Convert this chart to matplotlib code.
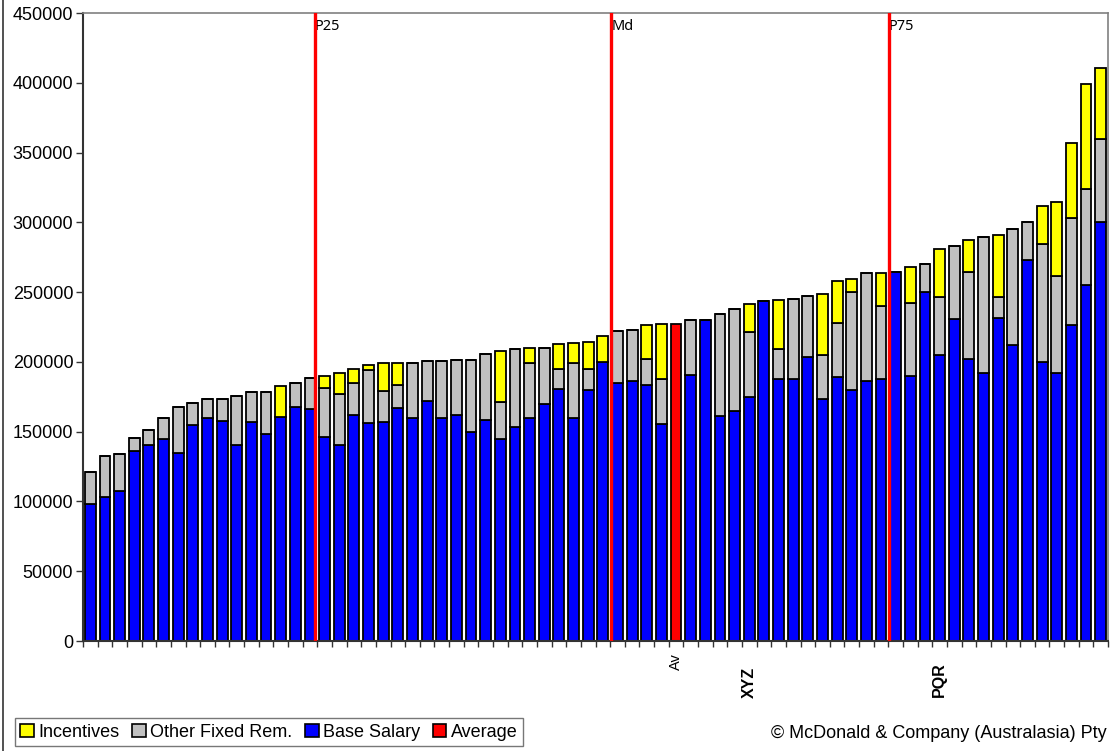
import numpy as np
import matplotlib
matplotlib.use('Agg')
import matplotlib.pyplot as plt
from matplotlib.lines import Line2D

plt.rcParams['font.family'] = ['Liberation Sans', 'DejaVu Sans']

# values (one entry per job, sorted by total)
base = [98000, 103000, 107800, 136000, 140100, 144800, 134800, 154900, 159700, 158000,
        140100, 156600, 148200, 160200, 168000, 165900, 146500, 140100, 162000, 156100,
        157000, 166800, 159900, 171900, 159900, 162300, 149600, 158700, 144400, 153400,
        159900, 169500, 180500, 159900, 180200, 200000, 185000, 186200, 183300, 155400,
        0, 190700, 229900, 161300, 164900, 174900, 243600, 187900, 187600, 203200,
        173300, 189300, 180000, 186200, 187600, 264400, 189800, 250000, 204800, 230900,
        202000, 192200, 231100, 211800, 273000, 199800, 192200, 226600, 255000, 300400]
other = [23200, 29400, 26100, 9300, 11200, 14900, 32800, 15500, 13400, 15500,
         35600, 21500, 30300, 0, 16800, 22400, 34900, 36600, 23000, 37800,
         22300, 16300, 39400, 28400, 40900, 39000, 52100, 47300, 27000, 55700,
         39000, 40400, 14300, 39000, 14400, 0, 37100, 36600, 18900, 32200,
         0, 39200, 0, 72900, 72700, 46700, 0, 21500, 57600, 43900,
         31800, 38300, 70200, 77700, 52600, 0, 52600, 20300, 41400, 51900,
         62400, 97500, 15500, 83200, 27200, 84600, 69500, 76700, 68600, 59600]
incentives = [0, 0, 0, 0, 0, 0, 0, 0, 0, 0,
              0, 0, 0, 22200, 0, 0, 8400, 15000, 10000, 3800,
              19600, 15800, 0, 0, 0, 0, 0, 0, 36300, 0,
              11200, 0, 18100, 14800, 19300, 18700, 0, 0, 24200, 39300,
              0, 0, 0, 0, 0, 19800, 0, 35100, 0, 0,
              43300, 30500, 9100, 0, 23700, 0, 25500, 0, 34600, 0,
              22700, 0, 44500, 0, 0, 27000, 53100, 53800, 75800, 50800]
average = [0] * 40 + [227300] + [0] * 29

percentile_names = ['P25', 'Md', 'P75']
percentile_pos = [15.35, 35.57, 54.52]

label_names = ['Av', 'XYZ', 'PQR']
label_pos = [40, 45, 58]

x = np.arange(len(base))
base = np.array(base)
other = np.array(other)
incentives = np.array(incentives)

fig = plt.figure(figsize=(11.12, 7.51), dpi=100)
ax = fig.add_axes([83 / 1112, 110 / 751, 1025 / 1112, 628 / 751])

w = 0.74
ec = dict(edgecolor='black', linewidth=1.3)
ax.bar(x, base, w, color='#0000FF', **ec)
ax.bar(x, other, w, bottom=base, color='#C0C0C0', **ec)
ax.bar(x, incentives, w, bottom=base + other, color='#FFFF00', **ec)
ax.bar(x, average, w, color='#FF0000', **ec)

ax.set_xlim(-0.5, len(base) - 0.5)
ax.set_ylim(0, 450000)
ax.set_yticks(np.arange(0, 450001, 50000))
ax.set_yticklabels([str(v) for v in range(0, 450001, 50000)], fontsize=13)
ax.set_xticks(np.arange(-0.5, len(base), 1))
ax.set_xticklabels([])
ax.tick_params(axis='x', direction='out', length=4, width=1, color='#333333')
ax.tick_params(axis='y', direction='out', length=5, width=1, color='#333333', pad=2)

for s in ['left', 'bottom']:
    ax.spines[s].set_color('#333333')
    ax.spines[s].set_linewidth(1.5)
for s in ['top', 'right']:
    ax.spines[s].set_color('#808080')
    ax.spines[s].set_linewidth(1.2)

# percentile markers
for name, pos in zip(percentile_names, percentile_pos):
    ax.axvline(pos, color='#FF0000', linewidth=2.4, zorder=5)
    ax.annotate(name, xy=(pos, 1), xycoords=('data', 'axes fraction'),
                xytext=(0, -4), textcoords='offset points', ha='left', va='top',
                fontsize=10.5, family=['Noto Sans', 'DejaVu Sans'])

# category labels under the axis
offsets = [-8.5, -18.5, -15.5]
for name, pos, off in zip(label_names, label_pos, offsets):
    bold = name != 'Av'
    ax.annotate(name, xy=(pos, 0), xycoords=('data', 'axes fraction'),
                xytext=(0, off), textcoords='offset points', rotation=90,
                ha='center', va='top', fontsize=11.5 if bold else 10.5,
                fontweight='bold' if bold else 'normal')

handles = [plt.Rectangle((0, 0), 1, 1, facecolor=c, edgecolor='black', linewidth=1.2)
           for c in ['#FFFF00', '#C0C0C0', '#0000FF', '#FF0000']]
leg = fig.legend(handles, ['Incentives', 'Other Fixed Rem.', 'Base Salary', 'Average'],
                 loc='lower left', bbox_to_anchor=(15 / 1112, 5 / 751), ncol=4,
                 fontsize=13, frameon=True, fancybox=False, handlelength=0.75,
                 handleheight=0.75, handletextpad=0.25, columnspacing=0.7,
                 borderpad=0.3, borderaxespad=0)
leg.get_frame().set_edgecolor('#555555')
leg.get_frame().set_linewidth(1.0)

fig.text(771 / 1112, 18 / 751, '\u00a9 McDonald & Company (Australasia) Pty',
         fontsize=13, ha='left', va='center')

# chart area border on the left edge
fig.add_artist(Line2D([2.5 / 1112, 2.5 / 1112], [0, 1], color='#333333',
                      linewidth=1.2, transform=fig.transFigure))

fig.savefig('out.png', dpi=100)
